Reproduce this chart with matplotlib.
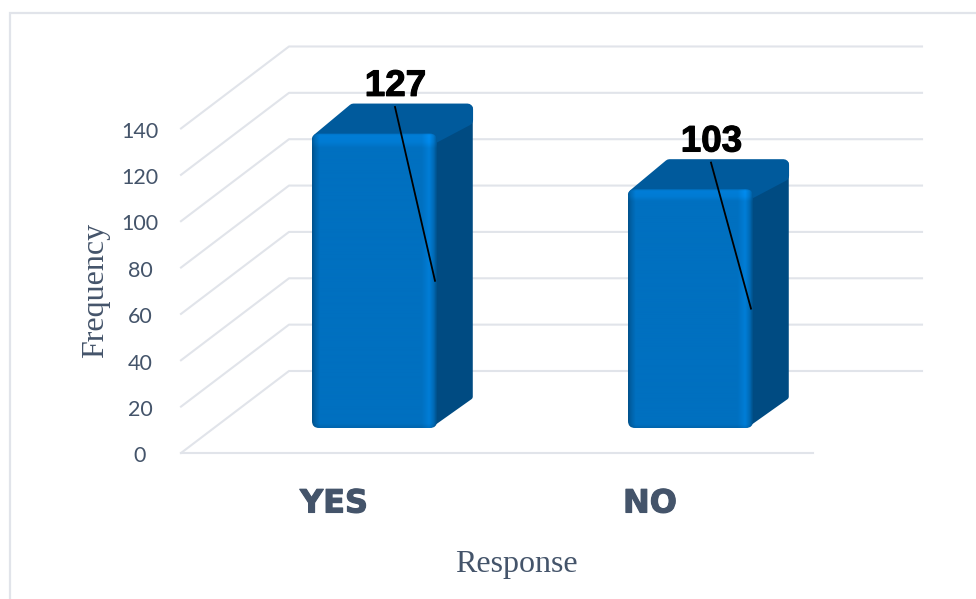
import matplotlib
matplotlib.use("Agg")
import matplotlib.pyplot as plt
import matplotlib.patheffects as pe
import numpy as np
from matplotlib.patches import FancyBboxPatch, Polygon

categories = ["YES", "NO"]
frequency = [127, 103]
ticks = [0, 20, 40, 60, 80, 100, 120, 140]

TEXT = "#44546A"
GRID = "#E1E4EA"
PX = 2.318  # pixels per frequency unit

fig = plt.figure(figsize=(9.76, 5.99), dpi=100, facecolor="white")
ax = fig.add_axes([0, 0, 1, 1])
ax.set_xlim(0, 976)
ax.set_ylim(-(599 - 453) / PX, 453 / PX)
ax.axis("off")

# outer chart frame
ax.plot([9.5, 9.5, 976], [-(599 - 453) / PX, (453 - 12.5) / PX, (453 - 12.5) / PX],
        color=GRID, lw=1.6, solid_joinstyle="miter", zorder=1)

# walls: side line then back wall line for every tick
x0, x1, dx, dy = 181, 813, 108, 82 / PX
for t in ticks:
    ax.plot([x0, x0 + dx, x1 + dx + 1], [t, t + dy, t + dy], color=GRID, lw=1.5,
            solid_joinstyle="round", zorder=1)
    ax.text(140, t - 1.4, str(t), ha="center", va="center", fontsize=15.5,
            color=TEXT, family="Lato", zorder=5)
ax.plot([x0, x1], [0, 0], color=GRID, lw=1.5, zorder=1)


def front_shade(nx=250, ny=600):
    # bevelled front of the bar: darker at the rim, lighter just inside it
    col = np.array([0, 112, 192]) / 255
    u = np.linspace(0, 1, nx)
    v = np.linspace(0, 1, ny)
    hx = np.interp(u, [0, 0.02, 0.06, 0.88, 0.94, 0.975, 1], [0.72, 0.85, 1, 1, 1.12, 0.95, 0.72])
    hy = np.interp(v, [0, 0.008, 0.03, 0.05, 0.985, 1], [1.0, 1.12, 1.1, 1, 1, 0.9])
    img = col[None, None, :] * (hx[None, :] * hy[:, None])[:, :, None]
    return np.clip(img, 0, 1)


bar_w = 125
base = 25 / PX
bdx, bdy = 36, 30 / PX
ry = 5.5 / PX
centers = [x0 + (x1 - x0) * (i + 0.5) / len(categories) + 35.5 for i in range(len(categories))]
for cx, val in zip(centers, frequency):
    left = cx - bar_w / 2
    right = cx + bar_w / 2
    top = base + val
    # side and top faces, thick round edge gives the soft corners
    side = Polygon([(right - 6, base + 1.5), (right + bdx - 3, base + bdy + 0.5),
                    (right + bdx - 3, top + bdy - 2), (right - 6, top - 2)],
                   closed=True, fc="#004B82", ec="#004B82", lw=4, joinstyle="round", zorder=2)
    ax.add_patch(side)
    face = Polygon([(left + 5.5, top - ry), (left + 5.5 + bdx, top + bdy - ry),
                    (right + bdx - 5.5, top + bdy - ry), (right + bdx - 5.5, top + bdy - 3 * ry),
                    (right - 5.5, top - ry)],
                   closed=True, fc="#005A9C", ec="#005A9C", lw=8, joinstyle="round", zorder=3)
    ax.add_patch(face)
    rect = FancyBboxPatch((left, base), bar_w, val, boxstyle="round,pad=0,rounding_size=7",
                          mutation_aspect=1 / PX, fc="none", ec="none", zorder=4)
    ax.add_patch(rect)
    im = ax.imshow(front_shade(), extent=(left, right, base, top), origin="upper",
                   aspect="auto", zorder=4, interpolation="bilinear")
    im.set_clip_path(rect)
    # data label and its leader line
    ax.plot([cx + 20.5, cx + 60.5], [top + 11.5, base + val / 2], color="black", lw=1.3, zorder=6)
    ax.text(cx + 21, top + 20.4, str(val), ha="center", va="center", fontsize=26.5,
            fontweight="bold", family="Liberation Sans", color="black", zorder=6,
            path_effects=[pe.withStroke(linewidth=0.8, foreground="black")])

ax.set_xlim(0, 976)
ax.set_ylim(-(599 - 453) / PX, 453 / PX)

for cx, name in zip(centers, categories):
    ax.text(cx - 40.5, -22, name, ha="center", va="center", fontsize=23,
            fontweight="bold", family="DejaVu Sans", color=TEXT,
            path_effects=[pe.withStroke(linewidth=0.8, foreground=TEXT)])

ax.text(516, -48, "Response", ha="center", va="center", fontsize=23,
        family="Liberation Serif", color=TEXT)
ax.text(96, (453 - 290) / PX, "Frequency", ha="center", va="center", rotation=90,
        fontsize=23, family="Liberation Serif", color=TEXT)

fig.savefig("out.png", dpi=100, facecolor="white")
